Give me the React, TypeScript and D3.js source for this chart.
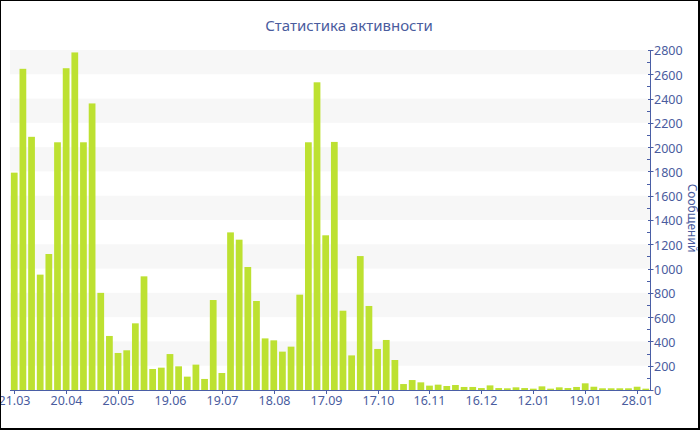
import React from 'react';
import * as d3 from 'd3';

const values: number[] = [
  1790, 2645, 2085, 950, 1120, 2040, 2650, 2780, 2040, 2360,
  800, 445, 305, 327, 549, 936, 173, 184, 296, 195,
  110, 209, 91, 741, 140, 1298, 1238, 1013, 733, 425,
  409, 316, 357, 785, 2040, 2534, 1274, 2043, 653, 285,
  1103, 692, 338, 412, 247, 49, 82, 63, 36, 44,
  33, 41, 25, 25, 16, 38, 16, 14, 22, 16,
  11, 30, 11, 22, 16, 25, 55, 27, 14, 14,
  14, 14, 27, 11,
];
const tickLabels: string[] = [
  '21.03', '20.04', '20.05', '19.06', '19.07', '18.08', '17.09',
  '17.10', '16.11', '16.12', '12.01', '19.01', '28.01',
];
const tickEvery = 6;
const yMax = 2800;
const yMajor = d3.range(0, yMax + 1, 200);
const yMinor = d3.range(100, yMax, 200);
const stripeStarts = d3.range(200, yMax, 400);
const title = 'Статистика активности';
const yTitle = 'Сообщений';

const W = 700;
const H = 430;
const plotLeft = 10;
const plotRight = 650;
const plotTop = 50;
const plotBottom = 390;
const axisColor = '#4a5ea6';
const textColor = '#4a5c9e';
const barColor = '#bde131';
const font = "'Noto Sans', 'DejaVu Sans', sans-serif";

export default function App() {
  const idx = d3.range(values.length);
  const x = d3
    .scaleBand<number>()
    .domain(idx)
    .range([plotLeft, plotRight])
    .paddingInner(0.22)
    .paddingOuter(0.1);
  const y = d3.scaleLinear().domain([0, yMax]).range([plotBottom, plotTop]);
  const ticks = tickLabels.map((label, i) => ({ label, index: i * tickEvery }));

  return (
    <svg
      width={W}
      height={H}
      style={{ position: 'absolute', left: 0, top: 0, background: '#fff' }}
      fontFamily={font}
    >
      <rect x={0} y={0} width={W} height={H} fill="#fff" />
      {stripeStarts.map((v) => (
        <rect
          key={'s' + v}
          x={plotLeft}
          y={y(v + 200)}
          width={plotRight - plotLeft}
          height={y(v) - y(v + 200)}
          fill="#f7f7f7"
        />
      ))}
      {values.map((v, i) => (
        <rect
          key={'b' + i}
          x={x(i)!}
          y={y(v)}
          width={x.bandwidth()}
          height={plotBottom - y(v)}
          fill={barColor}
        />
      ))}
      {/* x axis */}
      <line x1={plotLeft} x2={plotRight} y1={plotBottom + 0.5} y2={plotBottom + 0.5} stroke={axisColor} strokeWidth={1} />
      {ticks.map((t) => {
        const cx = Math.round(x(t.index)! + x.bandwidth() / 2) + 0.5;
        return (
          <g key={'xt' + t.index}>
            <line x1={cx} x2={cx} y1={plotBottom} y2={plotBottom + 4} stroke={axisColor} />
            <text x={cx} y={plotBottom + 14.5} textAnchor="middle" fontSize={12.5} fill={textColor}>
              {t.label}
            </text>
          </g>
        );
      })}
      {/* right y axis */}
      <line x1={plotRight + 0.5} x2={plotRight + 0.5} y1={plotTop} y2={plotBottom + 1} stroke={axisColor} />
      {yMinor.map((v) => (
        <line key={'ym' + v} x1={plotRight - 3} x2={plotRight + 0.5} y1={Math.round(y(v)) + 0.5} y2={Math.round(y(v)) + 0.5} stroke={axisColor} />
      ))}
      {yMajor.map((v) => (
        <g key={'yt' + v}>
          <line x1={plotRight - 2} x2={plotRight + 3.5} y1={Math.round(y(v)) + 0.5} y2={Math.round(y(v)) + 0.5} stroke={axisColor} />
          <text x={plotRight + 4} y={y(v) + 1} dy="0.35em" fontSize={12.5} fill={textColor}>
            {v}
          </text>
        </g>
      ))}
      <text
        transform={`translate(688, ${(plotTop + plotBottom) / 2 - 2}) rotate(90)`}
        textAnchor="middle"
        fontSize={12}
        fill={textColor}
      >
        {yTitle}
      </text>
      <text x={349} y={31} textAnchor="middle" fontSize={15} fill={textColor}>
        {title}
      </text>
      {/* border */}
      <rect x={0.5} y={0.5} width={698} height={428} fill="none" stroke="#000" strokeWidth={1} />
      <line x1={699.5} x2={699.5} y1={0} y2={430} stroke="#000" />
      <line x1={0} x2={700} y1={429.5} y2={429.5} stroke="#000" />
    </svg>
  );
}
